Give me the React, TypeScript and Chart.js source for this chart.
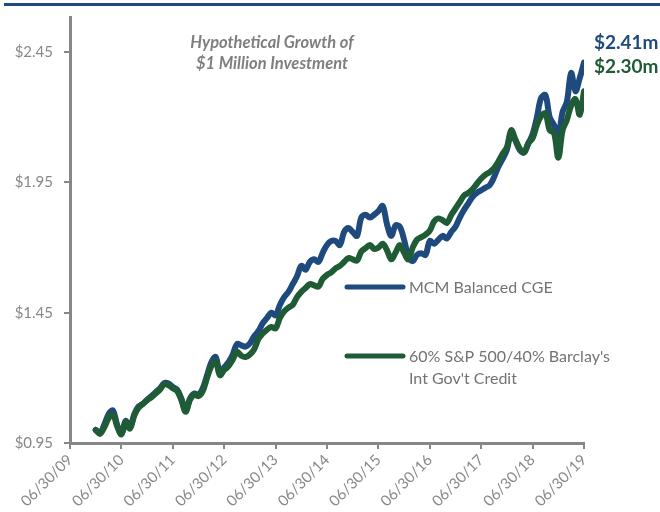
import React, { useEffect, useRef } from "react";
import { Chart, registerables } from "chart.js";
Chart.register(...registerables);

// Month offset (months after 06/30/09) of the first data point (12/31/09)
const startMonth = 6;

const xTickLabels = [
  "06/30/09", "06/30/10", "06/30/11", "06/30/12", "06/30/13", "06/30/14",
  "06/30/15", "06/30/16", "06/30/17", "06/30/18", "06/30/19",
];
const yTickValues = [0.95, 1.45, 1.95, 2.45];

const mcmValues = [
  1.0, 0.99, 1.02, 1.06, 1.075, 1.02, 0.985, 1.035, 1.01, 1.06, 1.09, 1.1,
  1.115, 1.13, 1.145, 1.16, 1.18, 1.178, 1.165, 1.155, 1.12, 1.075, 1.12, 1.14,
  1.135, 1.16, 1.21, 1.26, 1.28, 1.22, 1.24, 1.26, 1.29, 1.33, 1.325, 1.32,
  1.332, 1.36, 1.38, 1.41, 1.43, 1.45, 1.44, 1.48, 1.51, 1.53, 1.56, 1.59,
  1.63, 1.615, 1.645, 1.655, 1.645, 1.68, 1.71, 1.725, 1.725, 1.71, 1.76, 1.775,
  1.76, 1.745, 1.815, 1.826, 1.815, 1.826, 1.84, 1.86, 1.79, 1.745, 1.785, 1.78,
  1.73, 1.665, 1.648, 1.672, 1.678, 1.672, 1.725, 1.715, 1.73, 1.745, 1.735, 1.76,
  1.78, 1.815, 1.845, 1.87, 1.895, 1.91, 1.92, 1.93, 1.94, 1.97, 2.01, 2.04,
  2.075, 2.14, 2.11, 2.075, 2.065, 2.1, 2.135, 2.2, 2.275, 2.285, 2.2, 2.17,
  2.13, 2.22, 2.26, 2.37, 2.3, 2.35, 2.41,
];

const benchValues = [
  1.0, 0.985, 1.01, 1.045, 1.06, 1.015, 0.983, 1.03, 1.005, 1.055, 1.085, 1.1,
  1.115, 1.125, 1.14, 1.155, 1.175, 1.172, 1.16, 1.15, 1.115, 1.07, 1.115, 1.135,
  1.13, 1.15, 1.2, 1.245, 1.265, 1.21, 1.23, 1.245, 1.27, 1.3, 1.285, 1.28,
  1.29, 1.31, 1.35, 1.37, 1.385, 1.395, 1.39, 1.43, 1.455, 1.47, 1.48, 1.51,
  1.53, 1.545, 1.56, 1.555, 1.55, 1.58, 1.595, 1.605, 1.62, 1.63, 1.645, 1.66,
  1.655, 1.65, 1.685, 1.698, 1.71, 1.695, 1.7, 1.715, 1.69, 1.655, 1.68, 1.71,
  1.68, 1.655, 1.7, 1.73, 1.74, 1.75, 1.765, 1.8, 1.812, 1.805, 1.795, 1.825,
  1.85, 1.875, 1.9, 1.91, 1.925, 1.945, 1.965, 1.98, 1.99, 2.005, 2.03, 2.06,
  2.085, 2.15, 2.115, 2.08, 2.065, 2.1, 2.12, 2.17, 2.205, 2.215, 2.15, 2.14,
  2.045, 2.15, 2.19, 2.245, 2.27, 2.21, 2.3,
];

const seriesNames = ["MCM Balanced CGE", "60% S&P 500/40% Barclay's Int Gov't Credit"];
const legendLines = [["MCM Balanced CGE"], ["60% S&P 500/40% Barclay's", "Int Gov't Credit"]];
const endLabels = ["$2.41m", "$2.30m"];
const titleLines = ["Hypothetical Growth of", "$1 Million Investment"];

const BLUE = "#1f4a7e";
const GREEN = "#1f5c36";
const AXIS = "#878787";
const TICK_TEXT = "#888888";
const FONT = "Lato";

export default function App() {
  const ref = useRef<HTMLCanvasElement>(null);

  useEffect(() => {
    const canvas = ref.current;
    if (!canvas) return;

    const overlay = {
      id: "overlay",
      afterDraw(chart: any) {
        const ctx = chart.ctx as CanvasRenderingContext2D;
        ctx.save();
        // top bar
        ctx.fillStyle = BLUE;
        ctx.fillRect(4, 3, 656, 3);

        // title
        ctx.fillStyle = "#7f7f7f";
        ctx.font = `italic bold 16.5px ${FONT}`;
        ctx.textAlign = "center";
        ctx.textBaseline = "middle";
        ctx.fillText(titleLines[0], 272, 43);
        ctx.fillText(titleLines[1], 272, 64);

        // end labels
        ctx.textAlign = "left";
        ctx.font = `bold 19px ${FONT}`;
        ctx.fillStyle = BLUE;
        ctx.fillText(endLabels[0], 594, 43);
        ctx.fillStyle = GREEN;
        ctx.fillText(endLabels[1], 594, 67);

        // legend
        const colors = [BLUE, GREEN];
        const ys = [287, 356];
        ctx.lineCap = "round";
        ctx.lineWidth = 5;
        ctx.font = `16px ${FONT}`;
        for (let i = 0; i < 2; i++) {
          ctx.strokeStyle = colors[i];
          ctx.beginPath();
          ctx.moveTo(347, ys[i]);
          ctx.lineTo(403, ys[i]);
          ctx.stroke();
          ctx.fillStyle = "#737373";
          legendLines[i].forEach((t, j) => ctx.fillText(t, 409, ys[i] + 1 + j * 22));
        }
        ctx.restore();
      },
    };

    const mkData = (vals: number[]) => vals.map((v, i) => ({ x: startMonth + i, y: v }));

    const chart = new Chart(canvas, {
      type: "line",
      data: {
        datasets: [
          {
            label: seriesNames[0],
            data: mkData(mcmValues),
            borderColor: BLUE,
            backgroundColor: BLUE,
            borderWidth: 6,
            pointRadius: 0,
            tension: 0.35,
            borderCapStyle: "round",
            borderJoinStyle: "round",
            order: 1,
          },
          {
            label: seriesNames[1],
            data: mkData(benchValues),
            borderColor: GREEN,
            backgroundColor: GREEN,
            borderWidth: 6,
            pointRadius: 0,
            tension: 0.35,
            borderCapStyle: "round",
            borderJoinStyle: "round",
            order: 0,
          },
        ],
      },
      options: {
        responsive: false,
        animation: false,
        events: [],
        layout: { padding: { left: 8, top: 17, right: 76, bottom: 0 } },
        plugins: {
          legend: { display: false },
          tooltip: { enabled: false },
          title: { display: false },
        },
        scales: {
          x: {
            type: "linear",
            min: 0,
            max: 120,
            afterBuildTicks: (s: any) => {
              s.ticks = xTickLabels.map((_, i) => ({ value: i * 12 }));
            },
            afterFit: (s: any) => {
              s.height = 69;
              s.paddingLeft = 0;
              s.paddingRight = 0;
            },
            ticks: {
              autoSkip: false,
              maxRotation: 45,
              minRotation: 45,
              padding: 2,
              color: TICK_TEXT,
              font: { family: FONT, size: 15 },
              callback: (v: any) => xTickLabels[Math.round(Number(v) / 12)] ?? "",
            },
            grid: { drawOnChartArea: false, drawTicks: true, tickLength: 6, color: AXIS, lineWidth: 2 },
            border: { display: true, color: AXIS, width: 3 },
          },
          y: {
            type: "linear",
            min: 0.95,
            max: 2.585,
            afterBuildTicks: (s: any) => {
              s.ticks = yTickValues.map((v) => ({ value: v }));
            },
            afterFit: (s: any) => {
              s.width = 62;
              s.paddingTop = 0;
              s.paddingBottom = 0;
            },
            ticks: {
              padding: 11,
              color: TICK_TEXT,
              font: { family: FONT, size: 15 },
              callback: (v: any) => "$" + Number(v).toFixed(2),
            },
            grid: { drawOnChartArea: false, drawTicks: true, tickLength: 6, color: AXIS, lineWidth: 2 },
            border: { display: true, color: AXIS, width: 3 },
          },
        },
      },
      plugins: [overlay],
    } as any);

    return () => chart.destroy();
  }, []);

  return (
    <div style={{ position: "absolute", left: 0, top: 0, width: 660, height: 512, background: "#fff" }}>
      <canvas ref={ref} width={660} height={512} style={{ display: "block" }} />
    </div>
  );
}
